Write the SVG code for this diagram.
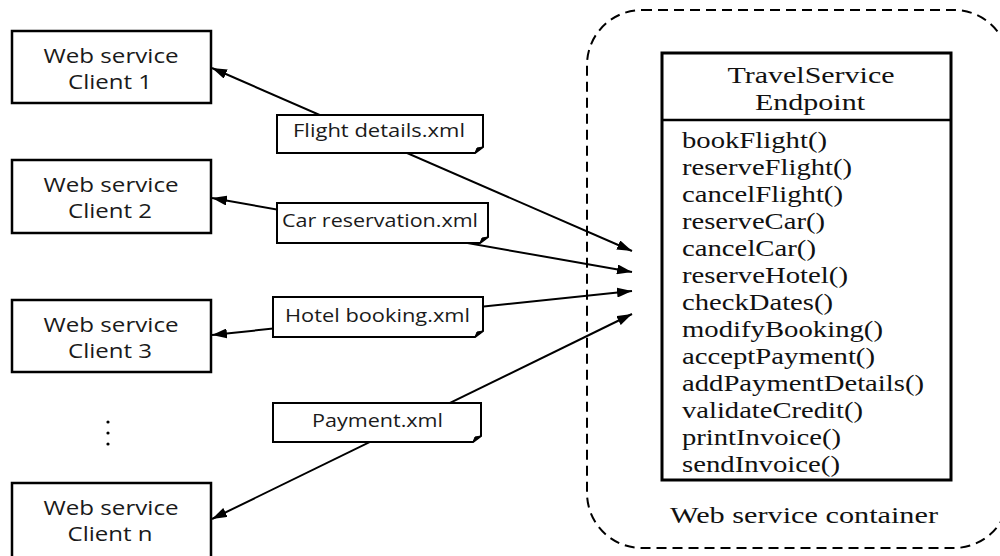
<svg xmlns="http://www.w3.org/2000/svg" width="1000" height="556" viewBox="0 0 1000 556">
<style>
.client{fill:#fff;stroke:#000;stroke-width:2.5}
.ct{font-family:"Open Sans","DejaVu Sans",sans-serif;font-size:20px;fill:#1a1a1a;text-anchor:middle}
.note{fill:#fff;stroke:#000;stroke-width:2}
.nt{font-family:"Open Sans","DejaVu Sans",sans-serif;font-size:17.5px;fill:#1a1a1a}
.conn{stroke:#000;stroke-width:2;fill:none;marker-start:url(#arr);marker-end:url(#arr)}
.serif{font-family:"Liberation Serif","Times New Roman",serif;fill:#111}
.m{font-size:23px}
</style>
<defs>
<marker id="arr" viewBox="0 0 15 10" refX="15" refY="5" markerWidth="15" markerHeight="10" markerUnits="userSpaceOnUse" orient="auto-start-reverse">
<path d="M0,0 L15,5 L0,10 Z" fill="#000"/>
</marker>
</defs>

<g id="container">
<rect x="587" y="10" width="422" height="538" rx="55" ry="55" fill="none" stroke="#000" stroke-width="2" stroke-dasharray="10 6"/>
<text class="serif" x="670" y="523" font-size="24" textLength="268" lengthAdjust="spacingAndGlyphs">Web service container</text>
</g>

<g id="connectors">
<line class="conn" x1="212" y1="68" x2="632" y2="251"/>
<line class="conn" x1="212" y1="198" x2="632" y2="272"/>
<line class="conn" x1="212" y1="335" x2="632" y2="291"/>
<line class="conn" x1="212" y1="519" x2="632" y2="314"/>
</g>

<g id="client1">
<rect class="client" x="12" y="31" width="199" height="72"/>
<text class="ct" x="111" y="63" textLength="135" lengthAdjust="spacingAndGlyphs">Web service</text>
<text class="ct" x="110" y="89" textLength="84" lengthAdjust="spacingAndGlyphs">Client 1</text>
</g>
<g id="client2">
<rect class="client" x="12" y="160" width="199" height="73"/>
<text class="ct" x="111" y="192" textLength="135" lengthAdjust="spacingAndGlyphs">Web service</text>
<text class="ct" x="110" y="218" textLength="84" lengthAdjust="spacingAndGlyphs">Client 2</text>
</g>
<g id="client3">
<rect class="client" x="12" y="300" width="199" height="72"/>
<text class="ct" x="111" y="332" textLength="135" lengthAdjust="spacingAndGlyphs">Web service</text>
<text class="ct" x="110" y="358" textLength="84" lengthAdjust="spacingAndGlyphs">Client 3</text>
</g>
<g id="dots">
<circle cx="108" cy="422" r="1.6" fill="#000"/>
<circle cx="108" cy="433" r="1.6" fill="#000"/>
<circle cx="108" cy="444" r="1.6" fill="#000"/>
</g>
<g id="clientn">
<rect class="client" x="12" y="483" width="199" height="80"/>
<text class="ct" x="111" y="515" textLength="135" lengthAdjust="spacingAndGlyphs">Web service</text>
<text class="ct" x="110" y="541" textLength="85" lengthAdjust="spacingAndGlyphs">Client n</text>
</g>

<g id="note-flight">
<path class="note" d="M277,115 H483 V147 L475,153 H277 Z"/>
<path d="M483,147 L475,153 L477,148 Z" fill="#000" stroke="#000" stroke-width="1"/>
<text class="nt" x="293" y="137" textLength="172" lengthAdjust="spacingAndGlyphs">Flight details.xml</text>
</g>
<g id="note-car">
<path class="note" d="M277,203 H488 V237 L480,243 H277 Z"/>
<path d="M488,237 L480,243 L482,238 Z" fill="#000" stroke="#000" stroke-width="1"/>
<text class="nt" x="282" y="227" textLength="196" lengthAdjust="spacingAndGlyphs">Car reservation.xml</text>
</g>
<g id="note-hotel">
<path class="note" d="M273,297 H483 V331 L475,337 H273 Z"/>
<path d="M483,331 L475,337 L477,332 Z" fill="#000" stroke="#000" stroke-width="1"/>
<text class="nt" x="285" y="322" textLength="185" lengthAdjust="spacingAndGlyphs">Hotel booking.xml</text>
</g>
<g id="note-payment">
<path class="note" d="M273,403 H481 V436 L473,442 H273 Z"/>
<path d="M481,436 L473,442 L475,437 Z" fill="#000" stroke="#000" stroke-width="1"/>
<text class="nt" x="312" y="427" textLength="131" lengthAdjust="spacingAndGlyphs">Payment.xml</text>
</g>

<g id="endpoint">
<rect x="662" y="53" width="289" height="427" fill="#fff" stroke="#000" stroke-width="3"/>
<line x1="662" y1="120" x2="951" y2="120" stroke="#000" stroke-width="2.5"/>
<text class="serif" x="811" y="83" font-size="24" text-anchor="middle" textLength="167" lengthAdjust="spacingAndGlyphs">TravelService</text>
<text class="serif" x="810" y="110" font-size="24" text-anchor="middle" textLength="110" lengthAdjust="spacingAndGlyphs">Endpoint</text>
<g class="serif m">
<text x="682" y="148" textLength="145" lengthAdjust="spacingAndGlyphs">bookFlight()</text>
<text x="682" y="175" textLength="170" lengthAdjust="spacingAndGlyphs">reserveFlight()</text>
<text x="682" y="202" textLength="161" lengthAdjust="spacingAndGlyphs">cancelFlight()</text>
<text x="682" y="229" textLength="143" lengthAdjust="spacingAndGlyphs">reserveCar()</text>
<text x="682" y="256" textLength="134" lengthAdjust="spacingAndGlyphs">cancelCar()</text>
<text x="682" y="283" textLength="166" lengthAdjust="spacingAndGlyphs">reserveHotel()</text>
<text x="682" y="310" textLength="151" lengthAdjust="spacingAndGlyphs">checkDates()</text>
<text x="682" y="337" textLength="201" lengthAdjust="spacingAndGlyphs">modifyBooking()</text>
<text x="682" y="364" textLength="193" lengthAdjust="spacingAndGlyphs">acceptPayment()</text>
<text x="682" y="391" textLength="242" lengthAdjust="spacingAndGlyphs">addPaymentDetails()</text>
<text x="682" y="418" textLength="181" lengthAdjust="spacingAndGlyphs">validateCredit()</text>
<text x="682" y="445" textLength="159" lengthAdjust="spacingAndGlyphs">printInvoice()</text>
<text x="682" y="472" textLength="158" lengthAdjust="spacingAndGlyphs">sendInvoice()</text>
</g>
</g>
</svg>
